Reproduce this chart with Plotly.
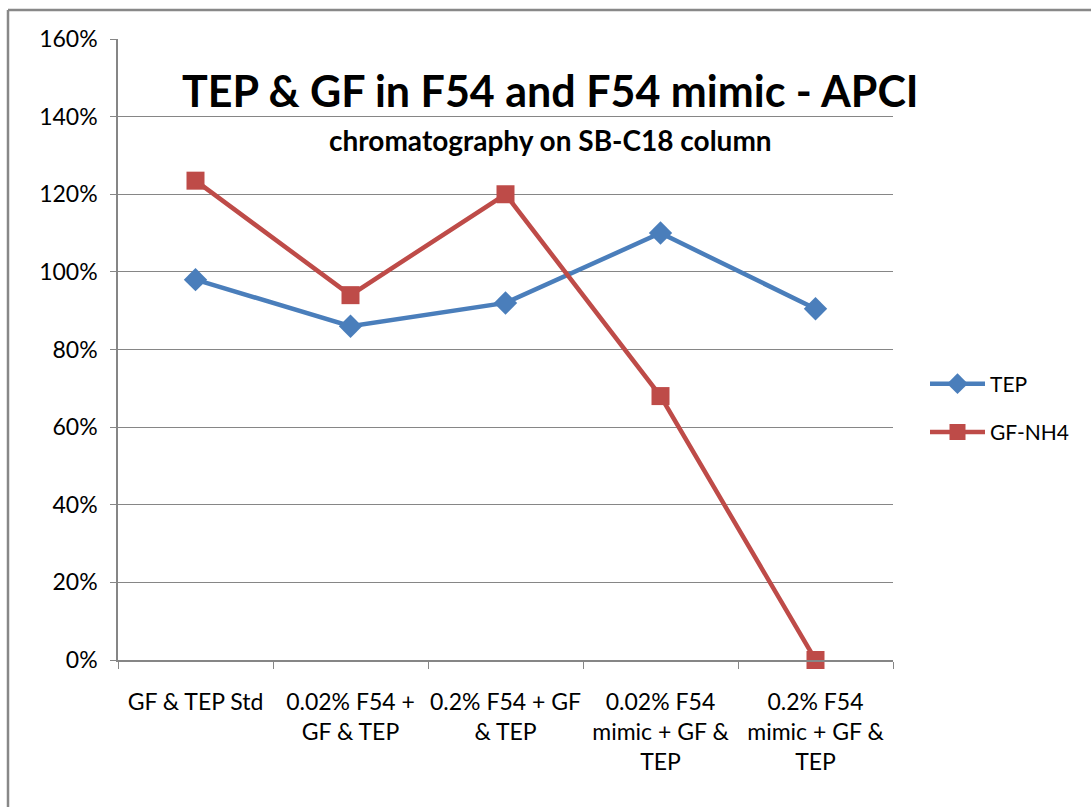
import plotly.graph_objects as go

categories = ["GF & TEP Std", "0.02% F54 +<br>GF & TEP", "0.2% F54 + GF<br>& TEP",
              "0.02% F54<br>mimic + GF &<br>TEP", "0.2% F54<br>mimic + GF &<br>TEP"]
tep = [0.98, 0.86, 0.92, 1.10, 0.905]
gf_nh4 = [1.235, 0.94, 1.20, 0.68, 0.0]
y_ticks = [0, 0.2, 0.4, 0.6, 0.8, 1.0, 1.2, 1.4, 1.6]

FONT = "Lato"
W, H = 1091, 807
L, R, T, B = 118, 893, 39, 660

fig = go.Figure()
fig.add_trace(go.Scatter(x=categories, y=tep, name="TEP", mode="lines+markers",
                         line=dict(color="#4A7EBB", width=4.5),
                         marker=dict(symbol="diamond", size=18, color="#4A7EBB"),
                         legendgroup="a", cliponaxis=False))
fig.add_trace(go.Scatter(x=categories, y=gf_nh4, name="GF-NH4", mode="lines+markers",
                         line=dict(color="#BE4B48", width=4.5),
                         marker=dict(symbol="square", size=18, color="#BE4B48"),
                         legendgroup="b", cliponaxis=False))

def px(x):
    return (x - L) / (R - L)

def py(y):
    return (B - y) / (B - T)

fig.update_layout(
    width=W, height=H,
    margin=dict(l=L, r=W - R, t=T, b=H - B, autoexpand=False),
    plot_bgcolor="white", paper_bgcolor="white",
    font=dict(family=FONT, color="black", size=22),
    showlegend=True,
    legend=dict(x=px(925), y=py(408), xanchor="left", yanchor="middle",
                traceorder="grouped", tracegroupgap=18, itemwidth=55,
                font=dict(size=21, family=FONT), bgcolor="rgba(0,0,0,0)"),
    xaxis=dict(type="category", tickson="boundaries", ticks="outside", ticklen=7,
               tickcolor="#868686", showline=True, linecolor="#868686", linewidth=1.5,
               showgrid=False, tickfont=dict(size=23, family=FONT), range=[-0.5, 4.5],
               ticklabelstandoff=21, tickangle=0, automargin=False),
    yaxis=dict(range=[0, 1.6], tickvals=y_ticks, tickformat=".0%", ticks="outside",
               ticklen=6, tickcolor="#868686", showline=True, linecolor="#868686",
               linewidth=1.5, showgrid=True, gridcolor="#868686", gridwidth=1.2,
               zeroline=False, tickfont=dict(size=23, family=FONT), ticklabelstandoff=8,
               automargin=False),
    annotations=[
        dict(text="<b>TEP & GF in F54 and F54 mimic - APCI</b>", xref="paper", yref="paper",
             x=px(550), y=py(90), xanchor="center", yanchor="middle", showarrow=False,
             font=dict(size=43, family=FONT, color="black")),
        dict(text="<b>chromatography on SB-C18 column</b>", xref="paper", yref="paper",
             x=px(550), y=py(140), xanchor="center", yanchor="middle", showarrow=False,
             font=dict(size=28, family=FONT, color="black")),
    ],
    shapes=[
        dict(type="line", xref="paper", yref="paper", x0=px(8), x1=px(1095), y0=py(10), y1=py(10),
             line=dict(color="#888888", width=2.5)),
        dict(type="line", xref="paper", yref="paper", x0=px(8), x1=px(8), y0=py(10), y1=py(815),
             line=dict(color="#888888", width=2.5)),
    ],
)

fig.write_html("out.html")
